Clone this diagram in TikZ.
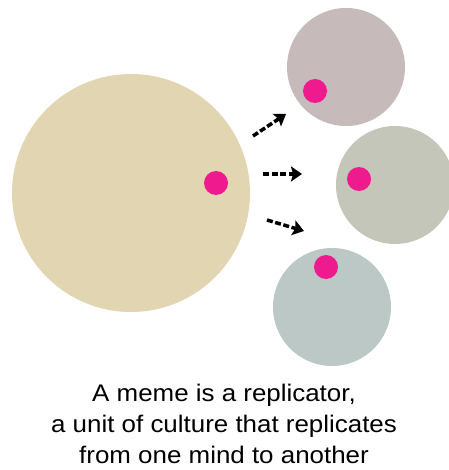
\documentclass[tikz,border=0pt]{standalone}
\usepackage{fontspec}
\setmainfont{Liberation Sans}
\newfontfamily\captionfont[FakeStretch=1.08]{Liberation Sans}
\usepackage{xcolor}
\usetikzlibrary{arrows.meta,positioning}
\definecolor{mindbig}{HTML}{E2D5B2}
\definecolor{mindtop}{HTML}{C6BABA}
\definecolor{mindmid}{HTML}{C3C6B9}
\definecolor{mindlow}{HTML}{BCC8C6}
\definecolor{memefill}{HTML}{EF1A8E}
\tikzset{
  mind/.style={
    circle,
    draw=none,
    inner sep=0pt
  },
  bigmind/.style={mind, fill=mindbig, minimum size=238pt},
  smallmind/.style={mind, minimum size=118pt},
  meme/.style={
    circle,
    fill=memefill,
    inner sep=0pt,
    minimum size=24pt
  },
  spread/.style={
    -{Stealth[length=11pt,width=15pt,inset=2pt]},
    draw=black,
    line width=3.5pt,
    dash pattern=on 6pt off 2.5pt
  },
  caption/.style={
    font=\captionfont\fontsize{24}{31}\selectfont,
    align=center,
    text=black
  }
}
\begin{document}
\begin{tikzpicture}[x=1pt,y=-1pt]
\useasboundingbox (0,0) rectangle (448,470);

% ---------------------------------------------------------------------------
% Minds
% ---------------------------------------------------------------------------
\node[bigmind] (source) at (131,193) {};
\node[smallmind, fill=mindtop] (upper) at (346,67) {};
\node[smallmind, fill=mindmid] (middle) at (395,185) {};
\node[smallmind, fill=mindlow] (lower) at (332,307) {};

% Memes inside each mind.
\node[meme] (memesource) at (216,183) {};
\node[meme] (memeupper) at (315,91) {};
\node[meme] (mememiddle) at (359,179) {};
\node[meme] (memelower) at (326,267) {};

% ---------------------------------------------------------------------------
% Replication arrows
% ---------------------------------------------------------------------------
\coordinate (upstart) at (253,136);
\coordinate (upend) at (286,114);
\coordinate (midstart) at (263,174);
\coordinate (midend) at (302,174);
\coordinate (lowstart) at (267,220);
\coordinate (lowend) at (304,231);

\draw[spread] (upstart) -- (upend);
\draw[spread] (midstart) -- (midend);
\draw[spread] (lowstart) -- (lowend);

% Caption.
\node[caption] (text) at (224,424)
  {A meme is a replicator,\\a unit of culture that replicates\\from one mind to another};

\end{tikzpicture}
\end{document}
